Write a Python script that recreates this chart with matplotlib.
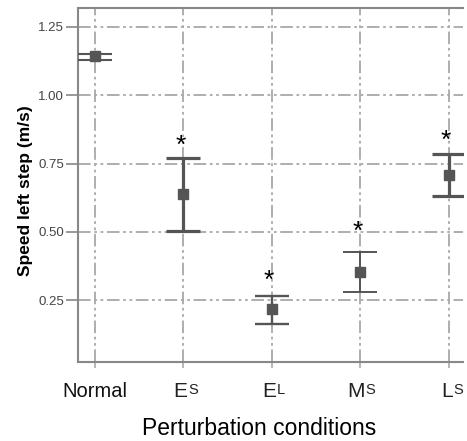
#!/usr/bin/env python3
""" speed left step per perturbation condition """
import matplotlib
matplotlib.use('Agg')
import matplotlib.pyplot as plt

plt.rcParams['font.family'] = ['Liberation Sans', 'DejaVu Sans']

# data
big = ['Normal', 'E', 'E', 'M', 'L']
small = ['', 'S', 'L', 'S', 'S']
means = [1.144, 0.638, 0.217, 0.352, 0.708]
upper = [1.152, 0.770, 0.265, 0.425, 0.786]
lower = [1.130, 0.505, 0.162, 0.279, 0.633]
star_y = [None, 0.772, 0.278, 0.455, 0.788]
widths = [1.5, 2.3, 1.7, 1.4, 2.3]
yticks = [0.25, 0.50, 0.75, 1.00, 1.25]

grid_col = '#a8a8a8'
bar_col = '#555555'
dash = (0, (7, 2, 1.5, 2, 1.5, 2))

fig = plt.figure(figsize=(4.67, 4.41), dpi=100)
ax = fig.add_axes([0.167, 0.179, 0.824, 0.803])

xs = list(range(len(big)))

ax.set_xlim(-0.19, 4.16)
ax.set_ylim(0.024, 1.319)

for y in yticks:
    ax.axhline(y, color=grid_col, lw=1.3, ls=dash, zorder=1)
for x in xs:
    ax.axvline(x, color=grid_col, lw=1.3, ls=dash, zorder=1)

for x, m, u, l, w in zip(xs, means, upper, lower, widths):
    ax.errorbar([x], [m], yerr=[[m - l], [u - m]], fmt='s', color=bar_col,
                ecolor=bar_col, elinewidth=w, capthick=w, capsize=12,
                markersize=6.5, zorder=3)

for x, s in zip(xs, star_y):
    if s is not None:
        ax.text(x - 0.03, s, '*', ha='center', va='bottom', fontsize=19,
                color='black', zorder=4)

ax.set_yticks(yticks)
ax.set_yticklabels(['%.2f' % v for v in yticks], fontsize=9.5, color='#444444')
ax.tick_params(axis='y', length=9, width=1.2, color='#888888', pad=1)
ax.set_xticks(xs)
ax.set_xticklabels([])
ax.tick_params(axis='x', length=4, width=1.2, color='#aaaaaa')

for x, b, s in zip(xs, big, small):
    if s:
        t = ax.annotate(b, xy=(x, 0), xycoords=('data', 'axes fraction'),
                        xytext=(3, -14), textcoords='offset points',
                        ha='right', va='top', fontsize=15, color='#222222')
        ax.annotate(s, xy=(1, 0), xycoords=t, xytext=(0.5, 2.6),
                    textcoords='offset points', ha='left', va='bottom',
                    fontsize=10.5, color='#222222')
    else:
        ax.annotate(b, xy=(x, 0), xycoords=('data', 'axes fraction'),
                    xytext=(0, -14), textcoords='offset points',
                    ha='center', va='top', fontsize=14.5, color='#111111')

for side in ['left', 'top', 'bottom']:
    ax.spines[side].set_color('#888888')
    ax.spines[side].set_linewidth(1.5)
ax.spines['right'].set_visible(False)

ax.set_ylabel('Speed left step (m/s)', fontsize=12.5, fontweight='bold')
ax.yaxis.set_label_coords(-0.118, 0.485)
ax.set_xlabel('Perturbation conditions', fontsize=16.5)
ax.xaxis.set_label_coords(0.47, -0.155)

fig.savefig('out.png', dpi=100)
